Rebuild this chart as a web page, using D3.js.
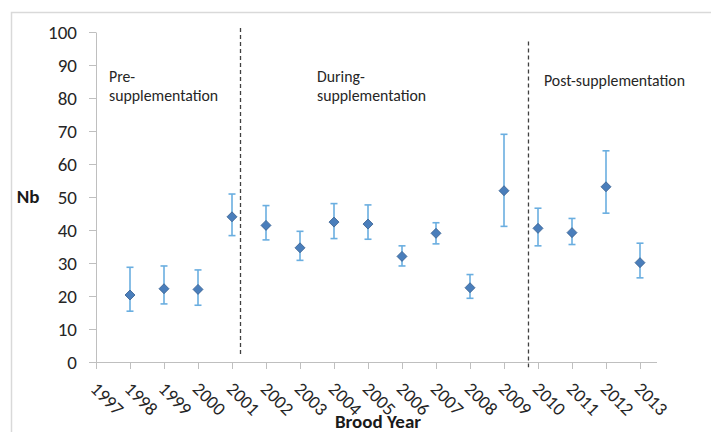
<!DOCTYPE html>
<html>
<head>
<meta charset="utf-8">
<script src="https://cdn.jsdelivr.net/npm/d3@7"></script>
<style>
  html, body { margin: 0; padding: 0; background: #fff; }
  svg { display: block; }
  text { font-family: Carlito, Lato, "Open Sans", sans-serif; }
</style>
</head>
<body>
<svg id="chart" width="711" height="432"></svg>
<script>
// ---- data ----
const years = [1998, 1999, 2000, 2001, 2002, 2003, 2004, 2005, 2006, 2007, 2008, 2009, 2010, 2011, 2012, 2013];
const nb    = [20.3, 22.2, 22.0, 44.0, 41.4, 34.6, 42.4, 41.8, 32.0, 39.0, 22.5, 51.9, 40.5, 39.2, 53.1, 30.1];
const upper = [28.7, 29.1, 27.9, 50.9, 47.4, 39.6, 48.0, 47.6, 35.2, 42.2, 26.5, 69.0, 46.6, 43.5, 64.0, 36.0];
const lower = [15.4, 17.6, 17.2, 38.3, 37.0, 30.8, 37.4, 37.2, 29.1, 35.8, 19.3, 41.1, 35.2, 35.6, 45.1, 25.5];
const xTickYears = [1997, 1998, 1999, 2000, 2001, 2002, 2003, 2004, 2005, 2006, 2007, 2008, 2009, 2010, 2011, 2012, 2013];
const yTicks = [0, 10, 20, 30, 40, 50, 60, 70, 80, 90, 100];
const dividerYears = [2001.25, 2009.72];
const dividerTop = [101.2, 97.1];
const dividerBottom = [2.1, -1.6];
const phaseLabels = [["Pre-", "supplementation"], ["During-", "supplementation"], ["Post-supplementation"]];
const yAxisTitle = "Nb";
const xAxisTitle = "Brood Year";

// ---- drawing ----
const svg = d3.select("#chart");
const x = d3.scaleLinear().domain([1997, 2013.5]).range([96, 657]);
const y = d3.scaleLinear().domain([0, 100]).range([362, 32]);

// outer frame
svg.append("rect").attr("x", 11.5).attr("y", 12.5).attr("width", 760).attr("height", 500)
  .attr("fill", "none").attr("stroke", "#d9d9d9").attr("stroke-width", 1.5);

// y axis
const yAxis = svg.append("g").attr("transform", "translate(96,0)")
  .call(d3.axisLeft(y).tickValues(yTicks).tickSize(7).tickPadding(12).tickSizeOuter(0));
yAxis.select(".domain").attr("stroke", "#bfbfbf");
yAxis.selectAll(".tick line").attr("stroke", "#bfbfbf");
yAxis.selectAll(".tick text").attr("font-size", 19).attr("fill", "#262626")
  .style("font-family", "Carlito, Lato, 'Open Sans', sans-serif");

// x axis
const xAxis = svg.append("g").attr("transform", "translate(0,362)")
  .call(d3.axisBottom(x).tickValues(xTickYears).tickFormat(d3.format("d")).tickSize(7).tickSizeOuter(0));
xAxis.select(".domain").attr("stroke", "#bfbfbf").attr("d", `M${x(1997)},0.5H${x(2013.5)}`);
xAxis.selectAll(".tick line").attr("stroke", "#bfbfbf");
xAxis.selectAll(".tick text")
  .attr("font-size", 18.5).attr("fill", "#262626")
  .style("font-family", "Carlito, Lato, 'Open Sans', sans-serif")
  .attr("text-anchor", "start")
  .attr("dy", null)
  .attr("y", 0)
  .attr("transform", "translate(-7,28) rotate(45)");

// divider lines
svg.append("g").selectAll("line").data(dividerYears).join("line")
  .attr("x1", d => x(d)).attr("x2", d => x(d))
  .attr("y1", (d, i) => y(dividerTop[i])).attr("y2", (d, i) => y(dividerBottom[i]))
  .attr("stroke", "#404040").attr("stroke-width", 1.3).attr("stroke-dasharray", "4,3");

// phase labels
const labelPos = [[109, 82], [317, 82], [544, 86]];
phaseLabels.forEach((lines, i) => {
  const t = svg.append("text").attr("x", labelPos[i][0]).attr("y", labelPos[i][1])
    .attr("font-size", 15.8).attr("fill", "#262626");
  lines.forEach((ln, j) => {
    t.append("tspan").attr("x", labelPos[i][0]).attr("dy", j === 0 ? 0 : 19).text(ln);
  });
});

// error bars
const eb = svg.append("g").attr("stroke", "#6aaee0").attr("stroke-width", 1.6).attr("fill", "none");
years.forEach((yr, i) => {
  const cx = x(yr);
  eb.append("line").attr("x1", cx).attr("x2", cx).attr("y1", y(upper[i])).attr("y2", y(lower[i]));
  eb.append("line").attr("x1", cx - 3.5).attr("x2", cx + 3.5).attr("y1", y(upper[i])).attr("y2", y(upper[i]));
  eb.append("line").attr("x1", cx - 3.5).attr("x2", cx + 3.5).attr("y1", y(lower[i])).attr("y2", y(lower[i]));
});

// markers
const sym = d3.symbol().type(d3.symbolSquare).size(50);
svg.append("g").selectAll("path").data(years).join("path")
  .attr("d", sym)
  .attr("transform", (d, i) => `translate(${x(d)},${y(nb[i])}) rotate(45)`)
  .attr("fill", "#4a7ebb").attr("stroke", "#3b6392").attr("stroke-width", 0.8);

// axis titles
svg.append("text").attr("x", 28).attr("y", y(50) + 6).attr("text-anchor", "middle")
  .attr("font-size", 19).attr("font-weight", "bold").attr("fill", "#1a1a1a").text(yAxisTitle);
svg.append("text").attr("x", 378).attr("y", 428).attr("text-anchor", "middle")
  .attr("font-size", 19).attr("font-weight", "bold").attr("fill", "#1a1a1a").text(xAxisTitle);
</script>
</body>
</html>
